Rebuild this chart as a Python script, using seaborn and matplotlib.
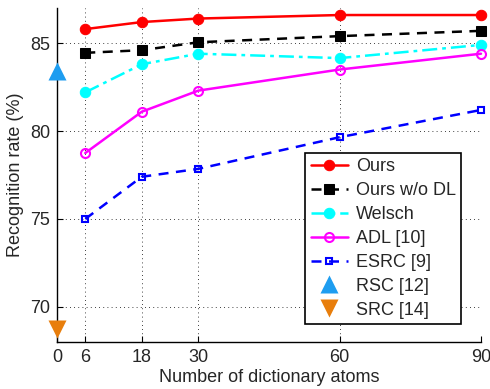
import matplotlib
matplotlib.use("Agg")
import matplotlib.pyplot as plt
import seaborn as sns
import pandas as pd

atoms = [6, 18, 30, 60, 90]
ours = [85.8, 86.2, 86.4, 86.6, 86.6]
ours_wo_dl = [84.45, 84.6, 85.05, 85.4, 85.7]
welsch = [82.2, 83.8, 84.4, 84.15, 84.9]
adl = [78.75, 81.1, 82.3, 83.5, 84.4]
esrc = [75.0, 77.4, 77.85, 79.65, 81.2]
rsc_x, rsc_y = [0], [83.4]
src_x, src_y = [0], [68.75]
xticks = [0, 6, 18, 30, 60, 90]
yticks = [70, 75, 80, 85]

sns.set_style("white")
plt.rcParams['font.family'] = ['Liberation Sans', 'DejaVu Sans']
plt.rcParams['font.size'] = 13

fig = plt.figure(figsize=(4.9, 3.89), dpi=100)
ax = fig.add_axes([57/490, 1-342/389, (481-57)/490, (342-8)/389])

series = [
    ("Ours", ours, dict(color="red", linestyle="-", marker="o", markersize=7.5,
                        markerfacecolor="red", markeredgecolor="red")),
    ("Ours w/o DL", ours_wo_dl, dict(color="black", linestyle=(0, (4, 3)), marker="s", markersize=6.5,
                                    markerfacecolor="black", markeredgecolor="black")),
    ("Welsch", welsch, dict(color="cyan", linestyle=(0, (6, 2, 1.5, 2)), marker="o", markersize=7.5,
                            markerfacecolor="cyan", markeredgecolor="cyan")),
    ("ADL [10]", adl, dict(color="magenta", linestyle="-", marker="o", markersize=6.5,
                           markerfacecolor="none", markeredgecolor="magenta", markeredgewidth=1.5)),
    ("ESRC [9]", esrc, dict(color="blue", linestyle=(0, (4, 3)), marker="s", markersize=5,
                            markerfacecolor="none", markeredgecolor="blue", markeredgewidth=1.5)),
    ("RSC [12]", None, dict(color="#1e9df0", linestyle="", marker="^", markersize=13,
                            markerfacecolor="#1e9df0", markeredgecolor="none")),
    ("SRC [14]", None, dict(color="#e87e0c", linestyle="", marker="v", markersize=13,
                            markerfacecolor="#e87e0c", markeredgecolor="none")),
]
for name, vals, st in series:
    if name == "RSC [12]":
        df = pd.DataFrame({"x": rsc_x, "y": rsc_y})
    elif name == "SRC [14]":
        df = pd.DataFrame({"x": src_x, "y": src_y})
    else:
        df = pd.DataFrame({"x": atoms, "y": vals})
    sns.lineplot(data=df, x="x", y="y", ax=ax, label=name, linewidth=1.8,
                 clip_on=False, zorder=5, **st)

ax.set_xlim(0, 90)
ax.set_ylim(68, 87)
ax.set_xticks(xticks)
ax.set_yticks(yticks)
ax.grid(True, color="black", linestyle=(0, (1, 4)), linewidth=0.6)
for s in ["top", "right"]:
    ax.spines[s].set_visible(False)
for s in ["left", "bottom"]:
    ax.spines[s].set_color("black")
    ax.spines[s].set_linewidth(1.0)
ax.tick_params(direction="in", length=4, color="black", labelsize=13, left=True, bottom=True, pad=5)
ax.set_xlabel("Number of dictionary atoms", fontsize=13, labelpad=2)
ax.set_ylabel("Recognition rate (%)", fontsize=13, labelpad=4)

leg = ax.legend(loc="lower right", bbox_to_anchor=(0.953, 0.054), fontsize=13, frameon=True,
                fancybox=False, edgecolor="black", framealpha=1, borderpad=0.3,
                labelspacing=0.38, handlelength=2.1, handletextpad=0.4, borderaxespad=0)
leg.get_frame().set_linewidth(1.2)

fig.savefig("out.png", dpi=100)
